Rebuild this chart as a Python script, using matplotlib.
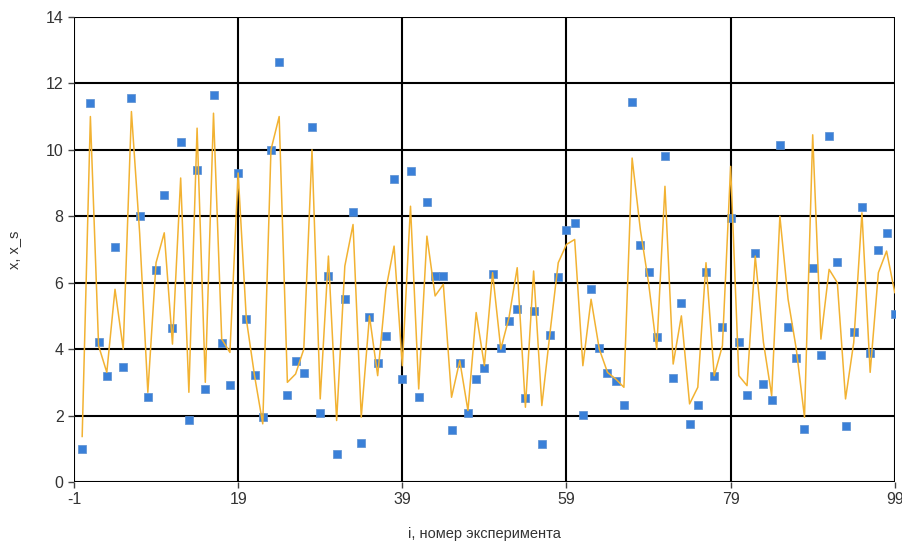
import matplotlib.pyplot as plt

plt.rcParams["axes.unicode_minus"] = False
plt.rcParams["font.family"] = ["Liberation Sans", "DejaVu Sans"]

# measured values x and smoothed values x_s, i = 0..99
x = [1.0, 11.42, 4.22, 3.19, 7.07, 3.47, 11.55, 8.02, 2.55, 6.37,
     8.65, 4.63, 10.24, 1.88, 9.40, 2.80, 11.66, 4.18, 2.92, 9.30,
     4.90, 3.21, 1.95, 9.98, 12.64, 2.61, 3.65, 3.29, 10.69, 2.08,
     6.20, 0.85, 5.52, 8.14, 1.16, 4.96, 3.57, 4.40, 9.12, 3.09,
     9.37, 2.57, 8.43, 6.20, 6.20, 1.56, 3.58, 2.08, 3.11, 3.43,
     6.27, 4.02, 4.84, 5.20, 2.53, 5.15, 1.15, 4.43, 6.17, 7.57,
     7.80, 2.02, 5.81, 4.02, 3.27, 3.05, 2.33, 11.44, 7.12, 6.31,
     4.35, 9.82, 3.13, 5.39, 1.75, 2.31, 6.32, 3.19, 4.66, 7.96,
     4.20, 2.63, 6.90, 2.95, 2.48, 10.15, 4.66, 3.74, 1.58, 6.43,
     3.82, 10.41, 6.63, 1.68, 4.50, 8.29, 3.88, 6.98, 7.49, 5.06]

x_s = [1.37, 11.0, 4.1, 3.3, 5.8, 4.0, 11.15, 7.5, 2.7, 6.6,
       7.5, 4.15, 9.15, 2.7, 10.65, 3.0, 11.1, 4.3, 3.9, 9.3,
       4.9, 3.2, 1.75, 10.0, 11.0, 3.0, 3.25, 4.0, 10.0, 2.5,
       6.8, 1.85, 6.5, 7.75, 1.95, 5.0, 3.2, 5.8, 7.1, 3.5,
       8.3, 2.8, 7.4, 5.6, 5.95, 2.55, 3.65, 2.15, 5.1, 3.5,
       6.3, 4.0, 4.95, 6.45, 2.25, 6.35, 2.3, 4.5, 6.6, 7.15,
       7.3, 3.5, 5.5, 4.0, 3.3, 3.1, 2.85, 9.75, 7.6, 6.0,
       4.0, 8.9, 3.55, 5.0, 2.35, 2.85, 6.6, 3.2, 4.1, 9.5,
       3.2, 2.9, 6.8, 4.2, 2.6, 8.0, 5.5, 4.0, 1.95, 10.45,
       4.3, 6.4, 6.0, 2.5, 4.2, 8.1, 3.3, 6.3, 6.95, 5.7]

i = list(range(len(x)))
xticks = [-1, 19, 39, 59, 79, 99]
yticks = [0, 2, 4, 6, 8, 10, 12, 14]

fig = plt.figure(figsize=(9.02, 5.44), dpi=100)
ax = fig.add_axes([0.082, 0.114, 0.910, 0.855])

ax.scatter(i, x, marker="s", s=28, color="#3a80d8", edgecolors="#5b8fd0",
           linewidths=0.5, zorder=3)
ax.plot(i, x_s, color="#f2b232", linewidth=1.1, zorder=4)

ax.set_xlim(-1, 99)
ax.set_ylim(0, 14)
ax.set_xticks(xticks)
ax.set_yticks(yticks)
ax.grid(True, color="#000000", linewidth=1.5, zorder=1)
ax.set_axisbelow(True)
for s in ax.spines.values():
    s.set_visible(False)
ax.tick_params(axis="both", colors="#444444", labelsize=11.5, length=4,
               width=1, labelcolor="#333333")

ax.set_xlabel("i, номер эксперимента", fontsize=10.5, color="#333333", labelpad=14)
ax.set_ylabel("x, x_s", fontsize=10.5, color="#333333", labelpad=18)

fig.savefig("out.png", dpi=100)
